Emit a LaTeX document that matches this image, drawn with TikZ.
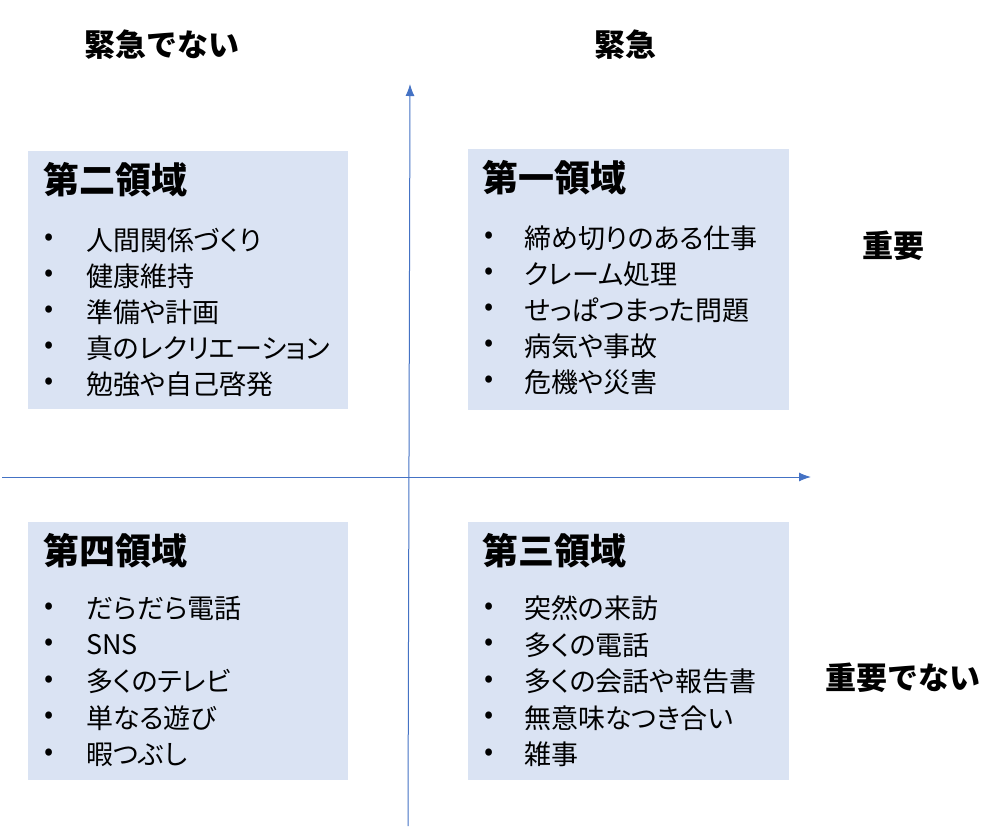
\documentclass[tikz,border=0pt]{standalone}
\usepackage{fontspec}
\setmainfont{Noto Sans CJK JP}
\usetikzlibrary{positioning,arrows.meta}
\tikzset{>={Latex[length=12pt,width=9pt]}}
\definecolor{quadfill}{HTML}{DAE3F3}
\definecolor{axisblue}{HTML}{4472C4}
\tikzstyle{quad}=[fill=quadfill,inner sep=0,anchor=north west]
\tikzstyle{qtitle}=[anchor=west,inner sep=0,font=\fontsize{36}{38}\selectfont\bfseries]
\tikzstyle{qitem}=[anchor=west,inner sep=0,font=\fontsize{27}{29}\selectfont\addfontfeature{RawFeature=+palt}]
\tikzstyle{axislbl}=[inner sep=0,font=\fontsize{31}{33}\selectfont\bfseries]
\tikzstyle{axis}=[axisblue,line width=1]

\begin{document}
\begin{tikzpicture}[x=1pt,y=-1pt]
  \useasboundingbox (0,0) rectangle (994,839);

  % QUADRANTS
  \node[quad,minimum width=320,minimum height=258] (q2) at (28,151) {};
  \node[quad,minimum width=321,minimum height=261] (q1) at (468,149) {};
  \node[quad,minimum width=320,minimum height=258] (q4) at (28,522) {};
  \node[quad,minimum width=321,minimum height=258] (q3) at (468,522) {};

  % TITLES
  \node[qtitle] (t2) at ([xshift=15,yshift=-29]q2.north west) {第二領域};
  \node[qtitle] (t1) at ([xshift=14,yshift=-29]q1.north west) {第一領域};
  \node[qtitle] (t4) at ([xshift=15,yshift=-29]q4.north west) {第四領域};
  \node[qtitle] (t3) at ([xshift=14,yshift=-29]q3.north west) {第三領域};

  % ITEMS
  \foreach \t [count=\i] in {人間関係づくり,健康維持,準備や計画,真のレクリエーション,勉強や自己啓発}{
    \node[qitem] (a\i) at ([xshift=58,yshift=-53-36*\i]q2.north west) {\t};
    \node[qitem] at ([xshift=16,yshift=-53-36*\i]q2.north west) {•};
  }
  \foreach \t [count=\i] in {締め切りのある仕事,クレーム処理,せっぱつまった問題,病気や事故,危機や災害}{
    \node[qitem] (b\i) at ([xshift=56,yshift=-53-36*\i]q1.north west) {\t};
    \node[qitem] at ([xshift=16,yshift=-53-36*\i]q1.north west) {•};
  }
  \foreach \t [count=\i] in {だらだら電話,SNS,多くのテレビ,単なる遊び,暇つぶし}{
    \node[qitem] (c\i) at ([xshift=58,yshift=-50-36.5*\i]q4.north west) {\t};
    \node[qitem] at ([xshift=16,yshift=-50-36.5*\i]q4.north west) {•};
  }
  \foreach \t [count=\i] in {突然の来訪,多くの電話,多くの会話や報告書,無意味なつき合い,雑事}{
    \node[qitem] (d\i) at ([xshift=56,yshift=-50-36.5*\i]q3.north west) {\t};
    \node[qitem] at ([xshift=16,yshift=-50-36.5*\i]q3.north west) {•};
  }

  % AXES
  \coordinate (ybot) at (408,826);
  \coordinate (ytop) at (410,84);
  \coordinate (xleft) at (2,477);
  \coordinate (xright) at (811,477);
  \draw[axis,->] (ybot) -- (ytop);
  \draw[axis,->] (xleft) -- (xright);

  % AXIS LABELS
  \node[axislbl] (nurg) at (162,45) {緊急でない};
  \node[axislbl] (urg) at (625,45) {緊急};
  \node[axislbl] (imp) at (893,246) {重要};
  \node[axislbl] (nimp) at (903,678) {重要でない};
\end{tikzpicture}
\end{document}
